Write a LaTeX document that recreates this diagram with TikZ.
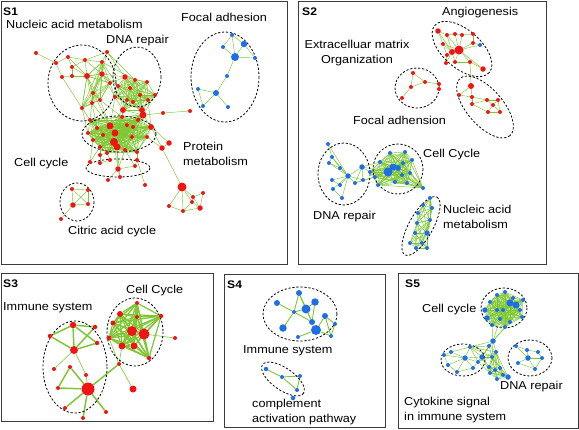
\documentclass[tikz,border=0pt]{standalone}
\usepackage{fontspec}
\setmainfont[FakeStretch=1.1]{Liberation Sans}
\usepackage{tikz}
\usetikzlibrary{backgrounds}
\definecolor{netred}{RGB}{240,20,20}
\definecolor{netblue}{RGB}{30,110,230}
\definecolor{netgreen}{RGB}{125,200,50}
\definecolor{framegray}{RGB}{60,60,60}

\begin{document}
\begin{tikzpicture}[x=1pt, y=-1pt,
  reddot/.style={circle, fill=netred, inner sep=0pt, minimum size=#1pt},
  bluedot/.style={circle, fill=netblue, inner sep=0pt, minimum size=#1pt},
  link/.style={draw=netgreen, line width=0.45pt},
  boldlink/.style={draw=netgreen, line width=1.5pt},
  group/.style={draw=black, line width=0.8pt, dash pattern=on 2.2pt off 1.8pt},
  panel/.style={draw=framegray, line width=1pt},
  lbl/.style={font=\fontsize{11.5}{15}\selectfont, inner sep=0pt, anchor=west, align=left},
  tag/.style={font=\fontsize{11}{13}\selectfont\bfseries, inner sep=0pt, anchor=west}]

\useasboundingbox (0,0) rectangle (579,429);
\begin{scope}[on background layer]
  \fill[white] (0,0) rectangle (579,429);
\end{scope}

% panels
\draw[panel] (1,1) rectangle (287,264);
\draw[panel] (298,1) rectangle (546,264);
\draw[panel] (1,273) rectangle (213,421);
\draw[panel] (224,274) rectangle (385,427);
\draw[panel] (398,273) rectangle (578,428);

% S1
\node[tag] (s1) at (3,12) {S1};
\node[lbl] (s1nucleic) at (6,24) {Nucleic acid metabolism};
\node[lbl] (s1dna) at (106,41) {DNA repair};
\node[lbl] (s1focal) at (181,17) {Focal adhesion};
\node[lbl] (s1protein) at (183,154) {Protein\\metabolism};
\node[lbl] (s1cell) at (14,164) {Cell cycle};
\node[lbl] (s1citric) at (68,232) {Citric acid cycle};
\draw[group] (82,83) ellipse [x radius=34, y radius=38];
\draw[group] (137,77) ellipse [x radius=24, y radius=30];
\draw[group] (119,134) ellipse [x radius=37, y radius=18];
\draw[group] (118,168) ellipse [x radius=32, y radius=9];
\draw[group] (77,202) ellipse [x radius=17, y radius=19];
\draw[group] (225,77) ellipse [x radius=34, y radius=45];

\foreach \n/\x/\y/\s in {1/36/53/4, 2/56/63/4, 3/68/57/4, 4/72/67/4, 5/62/77/4,
  6/72/76/4, 7/87/76/6, 8/85/60/4, 9/102/62/4, 10/107/52/4, 11/102/74/5.5,
  12/93/93/4, 13/82/108/4, 14/100/100/4, 15/110/83/4, 16/92/103/4,
  17/125/77/5.5, 18/118/86/4, 19/130/88/4, 20/135/80/4, 21/147/82/4, 22/140/95/4,
  23/155/95/4, 24/127/100/4, 25/133/102/4, 26/148/100/4, 27/115/97/4,
  28/123/110/6, 29/142/110/6,
  30/143/115/7, 31/151/127/6, 32/110/126/7, 33/115/133/7, 34/114/142/8,
  35/117/147/7, 36/103/135/4, 37/97/128/4, 38/127/125/4, 39/133/127/4,
  40/138/120/4, 41/122/117/4, 42/132/137/4, 43/100/147/4, 44/93/140/4,
  45/107/153/4, 46/125/150/4, 47/137/152/4, 48/147/137/4, 49/88/133/4, 50/90/120/4,
  51/100/163/4, 52/118/169/5.5, 53/135/166/4, 54/110/160/4, 55/137/160/4,
  56/108/180/4, 57/120/177/4, 58/145/185/4, 59/90/162/4, 60/100/155/4,
  61/163/113/4, 62/190/111/4, 63/162/148/5.5, 64/169/143/5.5, 65/182/187/9,
  66/169/206/4, 67/183/211/4, 68/192/202/4, 69/193/197/4, 70/203/193/4, 71/200/208/5.5,
  72/72/189/4, 73/88/190/4, 74/88/204/4, 75/73/205/5.5, 76/61/219/4}
  \node[reddot=\s] (a\n) at (\x,\y) {};

\foreach \n/\x/\y/\s in {1/232/35/4, 2/244/44/6.5, 3/223/47/4, 4/235/57/8,
  5/255/58/4, 6/227/76/4, 7/216/93/6, 8/198/89/4, 9/203/106/4, 10/228/107/4}
  \node[bluedot=\s] (fa\n) at (\x,\y) {};

% S2
\node[tag] (s2) at (302,12) {S2};
\node[lbl] (s2angio) at (442,13) {Angiogenesis};
\node[lbl, anchor=center, align=center] (s2matrix) at (357,53) {Extracelluar matrix\\Organization};
\node[lbl] (s2focal) at (353,120) {Focal adhension};
\node[lbl] (s2cell) at (423,155) {Cell Cycle};
\node[lbl] (s2dna) at (313,217) {DNA repair};
\node[lbl] (s2nucleic) at (443,216.5) {Nucleic acid\\metabolism};
\draw[group, rotate around={-41:(462,49)}] (462,49) ellipse [x radius=36, y radius=19];
\draw[group] (417,88) ellipse [x radius=22, y radius=20];
\draw[group, rotate around={-49:(485,107)}] (485,107) ellipse [x radius=38, y radius=18];
\draw[group] (344,174) ellipse [x radius=26, y radius=31];
\draw[group] (398,169) ellipse [x radius=25, y radius=25];
\draw[group, rotate around={61:(421,226)}] (421,226) ellipse [x radius=33, y radius=12];

\foreach \n/\x/\y/\s in {1/438/31/5.5, 2/447/35/4, 3/455/34/4, 4/462/35/4, 5/473/34/4,
  6/443/44/4, 7/452/52/6, 8/459/50/9, 9/447/55/4, 10/446/63/4, 11/455/62/4,
  12/470/62/4, 13/483/69/5.5, 14/473/43/4,
  15/471/86/6, 16/459/95/4, 17/472/97/4, 18/472/104/4, 19/487/100/4,
  20/498/100/4, 21/493/105/4, 22/488/112/4, 23/500/112/4,
  24/413/73/4, 25/425/82/4, 26/411/87/4, 27/439/84/4, 28/439/89/4, 29/402/98/4}
  \node[reddot=\s] (b\n) at (\x,\y) {};

\foreach \n/\x/\y/\s in {30/480/45/4,
  31/328/144/4, 32/332/157/4, 33/329/163/4, 34/340/168/4, 35/348/176/5.5,
  36/332/180/4, 37/340/185/4, 38/333/189/4, 39/342/198/4, 40/362/167/5.5,
  41/363/180/4, 42/355/183/4,
  43/388/172/9, 44/393/167/7, 45/398/168/6, 46/403/163/4, 47/380/162/4,
  48/405/152/4, 49/412/160/4, 50/410/173/4, 51/390/153/4, 52/375/177/4,
  53/378/185/4, 54/395/182/4, 55/407/183/4, 56/423/188/4, 57/370/172/4, 58/402/175/4,
  59/430/198/4, 60/423/205/4, 61/432/208/4, 62/418/213/4, 63/430/220/4,
  64/417/223/4, 65/427/233/5.5, 66/415/233/4, 67/410/243/4, 68/422/243/4,
  69/416/248/4, 70/427/248/4}
  \node[bluedot=\s] (b\n) at (\x,\y) {};

% S3
\node[tag] (s3) at (3,284) {S3};
\node[lbl] (s3cell) at (126,291) {Cell Cycle};
\node[lbl] (s3immune) at (3,308) {Immune system};
\draw[group] (75,367) ellipse [x radius=32, y radius=46];
\draw[group] (135,332) ellipse [x radius=28, y radius=34];

\foreach \n/\x/\y/\s in {1/73/325/6.5, 2/95/327/4.5, 3/50/336/4.5, 4/97/343/4.5,
  5/74/350/8, 6/54/369/4, 7/70/367/4, 8/86/375/4, 9/88/389/13, 10/58/388/4,
  11/65/408/4, 12/83/418/4, 13/106/412/4, 14/119/364/4, 15/133/389/7,
  16/137/303/4, 17/120/314/6, 18/137/317/4, 19/161/316/4.5, 20/113/323/5,
  21/132/331/10, 22/144/334/11, 23/109/338/5, 24/122/346/7, 25/134/346/7,
  26/149/358/4.5, 27/175/338/4}
  \node[reddot=\s] (c\n) at (\x,\y) {};

% S4
\node[tag] (s4) at (227,285) {S4};
\node[lbl] (s4immune) at (243,351) {Immune system};
\node[lbl] (s4compl) at (252,412) {complement\\activation pathway};
\draw[group] (300,314) ellipse [x radius=37, y radius=27];
\draw[group, rotate around={-35:(283,379)}] (283,379) ellipse [x radius=25, y radius=11];

\foreach \n/\x/\y/\s in {1/299/293/6, 2/277/303/6, 3/306/309/9, 4/315/302/7.5,
  5/294/312/4, 6/325/316/6, 7/312/322/6, 8/283/328/7.5, 9/316/330/10,
  10/335/324/4, 11/331/336/4, 12/298/337/4,
  13/266/369/4.5, 14/282/377/4, 15/300/376/4, 16/297/390/4, 17/293/398/4.5}
  \node[bluedot=\s] (d\n) at (\x,\y) {};

% S5
\node[tag] (s5) at (405,284) {S5};
\node[lbl] (s5cell) at (422,310) {Cell cycle};
\node[lbl] (s5dna) at (500,387) {DNA repair};
\node[lbl] (s5cyto) at (404,410.5) {Cytokine signal\\in immune system};
\draw[group] (504,308) ellipse [x radius=23, y radius=20];
\draw[group] (463,360) ellipse [x radius=22, y radius=16];
\draw[group] (530,358) ellipse [x radius=22, y radius=18];

\foreach \n/\x/\y/\s in {1/505/292/4, 2/497/295/4, 3/513/298/4, 4/510/303/7,
  5/516/305/7, 6/490/302/4, 7/485/310/5.5, 8/497/310/4, 9/503/310/4,
  10/520/310/4, 11/522/317/4, 12/487/318/5.5, 13/500/319/4, 14/510/322/4,
  15/492/325/4, 16/505/327/4, 17/523/300/4,
  18/493/341/5.5, 19/489/346/4, 20/470/347/4, 21/482/357/5.5, 22/478/362/4,
  23/492/357/4, 24/496/352/4, 25/489/367/4, 26/495/370/4, 27/500/368/4,
  28/508/377/5.5, 29/497/379/4, 30/490/373/4, 31/503/375/4,
  32/451/352/4, 33/444/355/4, 34/465/358/5.5, 35/448/365/4, 36/457/372/4,
  37/473/368/4,
  38/516/346/4, 39/527/350/4, 40/528/358/5.5, 41/542/358/4, 42/518/363/4,
  43/535/369/4, 44/538/352/4}
  \node[bluedot=\s] (e\n) at (\x,\y) {};

% connectors
\begin{scope}[on background layer]
  % S1
  \foreach \i/\j in {1/2, 2/3, 2/5, 3/4, 3/8, 4/6, 4/7, 5/6, 6/7, 7/8, 7/11, 7/12,
    8/9, 8/11, 9/10, 9/11, 10/11, 11/15, 11/12, 12/14, 12/16, 13/16, 14/16, 15/14,
    7/13, 4/8, 7/9, 5/13, 7/15, 11/14, 8/10, 3/7,
    9/18, 11/18, 15/17, 15/27, 11/27, 10/20, 9/20, 10/17, 11/17,
    28/32, 28/41, 28/30, 29/30, 29/40, 24/41, 25/30, 27/32, 22/30, 26/31, 23/30,
    12/32, 13/50, 14/32, 16/37, 12/50, 13/49, 14/41, 16/33,
    34/52, 35/52, 43/51, 45/54, 46/53, 47/55, 45/60, 44/59, 52/56, 52/57, 55/58,
    51/54, 53/55, 52/53, 35/57, 46/52, 60/43, 59/43,
    30/61, 61/62, 31/64, 48/63, 63/64, 63/65, 31/63,
    65/66, 65/67, 65/68, 65/69, 66/67, 67/71, 68/71, 69/70, 70/71, 68/69,
    67/68, 69/71, 72/73, 72/74, 72/75, 73/74, 73/75, 74/75, 75/76}
    \draw[link] (a\i) -- (a\j);
  \foreach \i in {7,9,11,12,13,14,15,16} \foreach \j in {7,9,11,12,13,14,15,16}
    {\ifnum\i<\j \draw[link] (a\i) -- (a\j); \fi}
  \foreach \i in {17,...,29} \foreach \j in {17,...,29}
    {\ifnum\i<\j \draw[link] (a\i) -- (a\j); \fi}
  \foreach \i in {30,...,50} \foreach \j in {30,...,50}
    {\ifnum\i<\j \draw[link] (a\i) -- (a\j); \fi}
  \foreach \i/\j in {1/2, 1/3, 1/4, 2/4, 2/5, 3/4, 4/5, 4/6, 6/7, 7/8, 7/9, 7/10, 8/9}
    \draw[link] (fa\i) -- (fa\j);
  % S2
  \foreach \i/\j in {1/2, 1/6, 1/7, 2/3, 2/7, 3/4, 3/8, 4/8, 4/5, 5/14, 14/8, 14/30,
    6/7, 6/8, 7/8, 7/9, 7/10, 7/11, 8/11, 8/12, 8/13, 9/10, 11/12, 12/13, 8/30,
    2/8, 6/9, 12/15,
    15/16, 15/17, 17/18, 17/19, 18/22, 19/20, 19/21, 20/21, 20/23, 21/22, 21/23,
    22/23, 16/17, 18/19,
    24/26, 24/25, 25/26, 25/27, 26/29, 27/28,
    31/35, 31/32, 32/35, 32/33, 33/34, 34/35, 35/36, 35/37, 35/38, 35/39, 36/37,
    35/40, 35/41, 35/42, 40/41, 40/42, 41/42, 38/39, 35/33, 34/32,
    40/57, 40/43, 41/52, 40/47, 42/52}
    \draw[link] (b\i) -- (b\j);
  \foreach \i in {43,...,58} \foreach \j in {43,...,58}
    {\ifnum\i<\j \draw[link] (b\i) -- (b\j); \fi}
  \foreach \i in {59,...,65} \foreach \j in {59,...,65}
    {\ifnum\i<\j \draw[link] (b\i) -- (b\j); \fi}
  \foreach \i in {63,...,70} \foreach \j in {63,...,70}
    {\ifnum\i<\j \draw[link] (b\i) -- (b\j); \fi}
  % S3
  \foreach \i/\j in {1/3, 1/2, 1/5, 1/4, 3/5, 2/5, 4/5, 7/10, 7/9, 10/9,
    9/11, 9/12, 9/13, 9/14}
    \draw[boldlink] (c\i) -- (c\j);
  \foreach \i/\j in {5/6, 5/8, 14/15, 14/23, 14/24, 22/27, 8/9}
    \draw[link, line width=0.6pt] (c\i) -- (c\j);
  \foreach \i in {16,...,26} \foreach \j in {16,...,26}
    {\ifnum\i<\j \draw[boldlink, line width=1.2pt] (c\i) -- (c\j); \fi}
  % S4
  \foreach \i/\j in {1/5, 1/3, 1/7, 2/5, 5/3, 3/4, 3/7, 4/7, 5/8, 5/7, 7/9, 9/6,
    6/10, 9/11, 6/11, 10/11, 12/9, 13/14, 14/15, 15/16, 14/16}
    \draw[link, line width=0.9pt] (d\i) -- (d\j);
  % S5
  \foreach \i in {1,...,17} \foreach \j in {1,...,17}
    {\ifnum\i<\j \draw[link] (e\i) -- (e\j); \fi}
  \foreach \i in {18,...,24} \foreach \j in {18,...,24}
    {\ifnum\i<\j \draw[link] (e\i) -- (e\j); \fi}
  \foreach \i in {23,...,31} \foreach \j in {23,...,31}
    {\ifnum\i<\j \draw[link] (e\i) -- (e\j); \fi}
  \foreach \i/\j in {18/13, 18/15, 18/16, 18/14, 21/25, 22/30, 21/30,
    32/33, 32/34, 33/34, 33/35, 34/35, 34/36, 35/36, 34/37, 36/37, 20/34, 20/32,
    21/34, 22/37, 34/22,
    38/40, 39/40, 40/41, 40/42, 40/43, 38/39, 39/44, 41/44, 42/43, 41/43}
    \draw[link] (e\i) -- (e\j);
\end{scope}
\end{tikzpicture}
\end{document}
